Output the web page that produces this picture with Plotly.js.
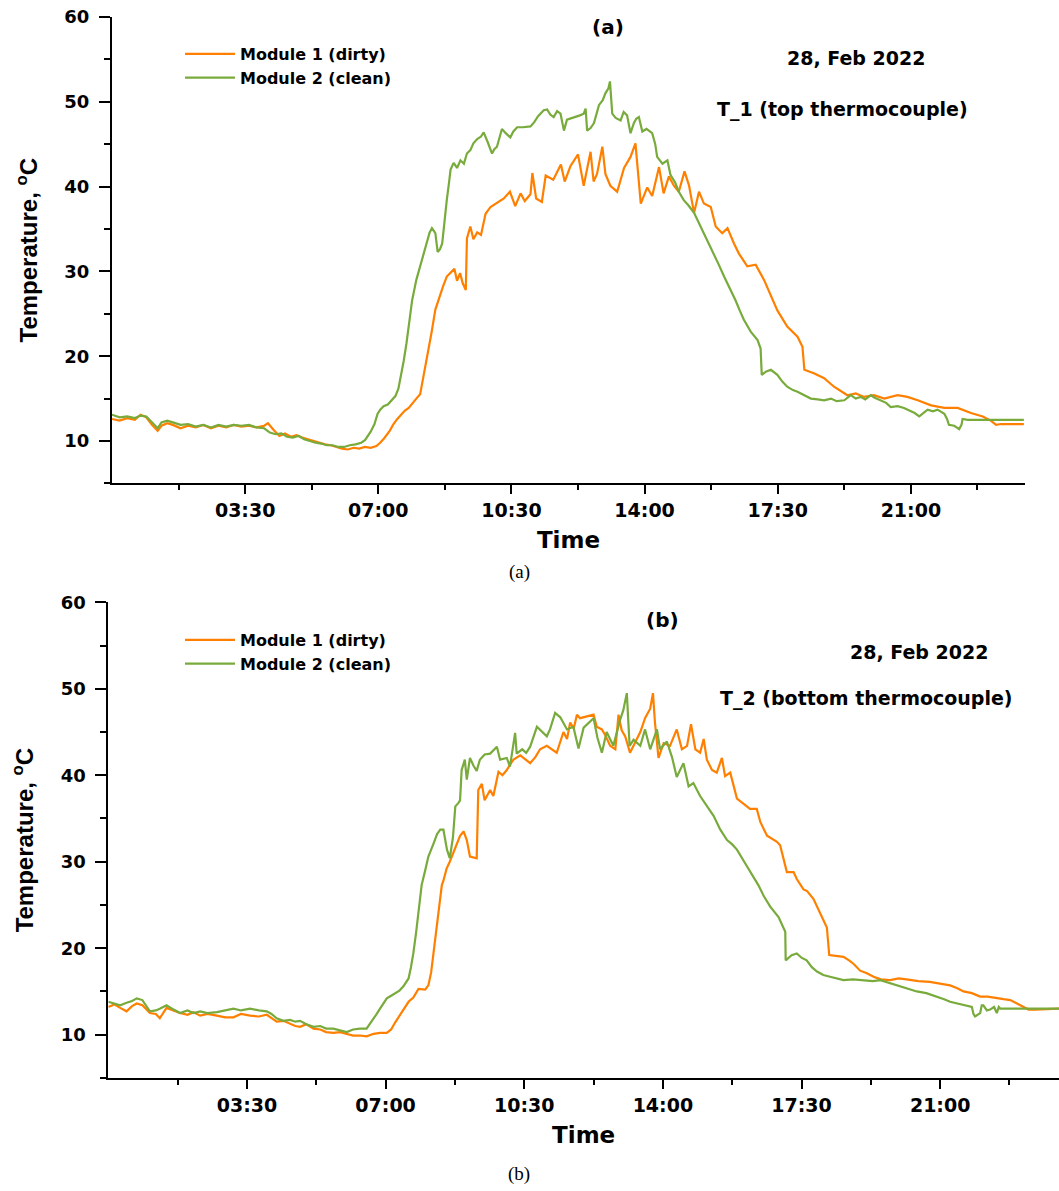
<!DOCTYPE html>
<html>
<head>
<meta charset="utf-8">
<script src="https://cdn.plot.ly/plotly-3.0.1.min.js"></script>
<style>
html,body{margin:0;padding:0;background:#ffffff;}
#chart{width:1059px;height:1191px;}
</style>
</head>
<body>
<div id="chart"></div>
<script>
// ---------------- DATA (hour of day, temperature °C) ----------------
const seriesNames = ['Module 1 (dirty)', 'Module 2 (clean)'];
const tickHours = [3.5, 7, 10.5, 14, 17.5, 21];
const tickLabels = ['03:30', '07:00', '10:30', '14:00', '17:30', '21:00'];

// (a) T_1 top thermocouple, Module 1 (dirty)
const t1Dirty = [[0,12.6],[0.2,12.4],[0.4,12.7],[0.6,12.5],[0.75,13.1],[0.9,12.8],[1.05,11.9],[1.2,11.2],[1.3,11.8],[1.45,12.1],[1.6,11.9],[1.8,11.5],[2.0,11.8],[2.2,11.6],[2.4,11.9],[2.6,11.5],[2.8,11.8],[3.0,11.6],[3.2,11.9],[3.4,11.7],[3.6,11.8],[3.8,11.6],[4.0,11.8],[4.1,12.1],[4.25,11.3],[4.4,10.6],[4.55,10.9],[4.7,10.5],[4.85,10.7],[5.0,10.4],[5.15,10.2],[5.3,10.0],[5.45,9.8],[5.6,9.6],[5.75,9.5],[5.9,9.3],[6.05,9.1],[6.2,9.0],[6.35,9.2],[6.5,9.1],[6.65,9.3],[6.8,9.2],[6.95,9.4],[7.05,9.8],[7.15,10.3],[7.3,11.2],[7.4,12.0],[7.5,12.6],[7.6,13.1],[7.7,13.6],[7.8,13.9],[7.9,14.5],[8.0,15.0],[8.1,15.5],[8.2,17.8],[8.3,20.3],[8.4,22.8],[8.5,25.5],[8.6,27.0],[8.7,28.2],[8.8,29.4],[8.9,29.9],[9.0,30.3],[9.07,28.9],[9.15,29.8],[9.22,28.6],[9.3,27.8],[9.33,33.9],[9.42,35.3],[9.5,33.8],[9.6,34.6],[9.7,34.3],[9.82,36.8],[9.95,37.6],[10.05,37.9],[10.15,38.2],[10.3,38.6],[10.46,39.4],[10.6,37.7],[10.74,39.2],[10.85,38.3],[11.0,39.1],[11.05,41.6],[11.15,38.6],[11.3,38.2],[11.4,41.3],[11.6,40.8],[11.8,42.6],[11.9,40.6],[12.05,42.4],[12.25,43.8],[12.4,40.1],[12.58,44.1],[12.66,40.6],[12.75,41.5],[12.89,44.7],[12.97,41.5],[13.1,40.1],[13.28,39.4],[13.46,42.2],[13.63,43.5],[13.76,45.1],[13.8,43.0],[13.9,38.0],[14.07,39.9],[14.2,38.9],[14.38,42.3],[14.5,39.2],[14.64,41.2],[14.77,40.1],[14.9,39.4],[15.05,41.8],[15.17,40.1],[15.3,36.9],[15.43,39.4],[15.56,38.0],[15.74,37.6],[15.87,35.3],[16.04,34.5],[16.18,35.1],[16.35,33.3],[16.48,32.1],[16.7,30.6],[16.92,30.8],[17.14,29.0],[17.3,27.4],[17.49,25.4],[17.75,23.5],[18.02,22.3],[18.15,21.1],[18.2,18.4],[18.45,18.0],[18.72,17.4],[18.98,16.4],[19.33,15.4],[19.55,15.6],[19.77,15.2],[20.03,15.4],[20.3,15.0],[20.65,15.4],[20.91,15.2],[21.18,14.8],[21.53,14.2],[21.88,13.9],[22.23,13.9],[22.58,13.3],[22.89,12.9],[23.1,12.4],[23.24,11.9],[23.37,12.0],[23.97,12.0]];

// (a) T_1 top thermocouple, Module 2 (clean)
const t1Clean = [[0,13.1],[0.2,12.8],[0.4,12.9],[0.6,12.7],[0.75,13.0],[0.9,12.9],[1.05,12.2],[1.2,11.5],[1.3,12.2],[1.45,12.4],[1.6,12.2],[1.8,11.9],[2.0,12.0],[2.2,11.7],[2.4,11.9],[2.6,11.6],[2.8,11.9],[3.0,11.7],[3.2,11.9],[3.4,11.8],[3.6,11.9],[3.8,11.6],[4.0,11.5],[4.15,11.0],[4.3,10.8],[4.45,10.9],[4.6,10.5],[4.75,10.4],[4.9,10.6],[5.05,10.2],[5.2,10.0],[5.35,9.8],[5.5,9.7],[5.65,9.5],[5.8,9.5],[5.95,9.3],[6.1,9.3],[6.25,9.5],[6.4,9.6],[6.55,9.8],[6.65,10.1],[6.8,11.1],[6.9,12.0],[6.98,13.2],[7.05,13.7],[7.14,14.1],[7.25,14.3],[7.36,14.8],[7.45,15.3],[7.53,16.2],[7.6,17.8],[7.67,19.5],[7.74,21.5],[7.8,23.5],[7.89,26.6],[8.0,29.0],[8.1,30.6],[8.2,32.2],[8.28,33.3],[8.35,34.6],[8.41,35.1],[8.5,34.5],[8.56,32.3],[8.62,32.6],[8.68,33.3],[8.74,36.0],[8.8,38.4],[8.86,40.5],[8.9,42.0],[8.98,42.8],[9.07,42.2],[9.16,43.1],[9.25,42.7],[9.33,43.9],[9.42,44.3],[9.5,45.1],[9.6,45.6],[9.7,45.9],[9.77,46.4],[9.88,45.2],[9.99,43.9],[10.05,44.4],[10.12,44.7],[10.2,46.0],[10.25,46.8],[10.35,46.3],[10.47,45.8],[10.55,46.5],[10.65,47.0],[10.8,47.0],[11.0,47.1],[11.1,47.6],[11.2,48.3],[11.35,49.0],[11.44,49.1],[11.52,48.5],[11.61,48.2],[11.7,48.9],[11.79,48.6],[11.88,46.6],[11.96,47.9],[12.3,48.4],[12.4,48.6],[12.45,49.2],[12.49,46.6],[12.58,46.9],[12.67,47.5],[12.8,49.6],[12.9,50.2],[12.97,51.0],[13.05,51.6],[13.09,52.4],[13.15,48.6],[13.24,48.1],[13.37,47.8],[13.45,48.8],[13.54,48.4],[13.63,46.3],[13.72,47.5],[13.78,48.0],[13.85,48.2],[13.94,46.5],[14.05,46.8],[14.2,46.3],[14.28,45.0],[14.33,43.5],[14.4,43.1],[14.47,42.7],[14.6,43.1],[14.68,41.4],[14.8,40.5],[14.9,39.4],[15.03,38.4],[15.15,37.8],[15.3,36.9],[15.43,35.7],[15.56,34.5],[15.7,33.3],[15.82,32.1],[15.95,30.8],[16.09,29.4],[16.25,28.0],[16.39,26.6],[16.5,25.4],[16.61,24.3],[16.79,22.9],[16.97,21.9],[17.05,20.9],[17.08,17.8],[17.2,18.2],[17.32,18.4],[17.49,17.8],[17.62,17.0],[17.75,16.4],[17.9,16.0],[18.02,15.8],[18.2,15.4],[18.37,15.0],[18.55,14.9],[18.72,14.8],[18.9,15.0],[19.05,14.7],[19.25,14.8],[19.42,15.4],[19.55,15.0],[19.68,15.2],[19.8,14.9],[19.95,15.4],[20.05,15.1],[20.2,14.8],[20.35,14.5],[20.47,14.0],[20.65,14.1],[20.82,13.9],[21.0,13.5],[21.1,13.3],[21.22,12.9],[21.35,13.4],[21.44,13.7],[21.58,13.5],[21.7,13.7],[21.88,13.2],[21.95,12.6],[22.0,11.9],[22.14,11.8],[22.27,11.4],[22.33,11.9],[22.36,12.6],[22.49,12.5],[23.97,12.5]];

// (b) T_2 bottom thermocouple, Module 1 (dirty)
const t2Dirty = [[0,13.2],[0.15,13.5],[0.3,13.1],[0.46,12.7],[0.6,13.3],[0.72,13.6],[0.86,13.4],[1.05,12.5],[1.2,12.4],[1.3,11.9],[1.47,13.1],[1.65,12.8],[1.81,12.5],[2.0,12.3],[2.15,12.6],[2.32,12.2],[2.5,12.4],[2.74,12.2],[2.95,12.0],[3.16,12.0],[3.35,12.4],[3.58,12.2],[3.8,12.1],[4.0,12.3],[4.12,11.9],[4.25,11.5],[4.42,11.6],[4.59,11.3],[4.72,11.0],[4.84,10.9],[5.0,11.2],[5.18,10.7],[5.35,10.6],[5.5,10.3],[5.68,10.2],[5.85,10.3],[6.02,10.1],[6.18,9.9],[6.35,9.9],[6.52,9.8],[6.7,10.1],[6.86,10.2],[7.03,10.2],[7.14,10.6],[7.24,11.4],[7.35,12.2],[7.45,13.0],[7.58,13.8],[7.7,14.3],[7.83,15.3],[8.0,15.2],[8.08,15.7],[8.15,17.2],[8.21,19.4],[8.27,21.8],[8.33,24.4],[8.42,27.3],[8.46,27.8],[8.54,29.2],[8.62,30.0],[8.7,31.0],[8.79,32.1],[8.88,33.0],[8.97,33.5],[9.05,32.5],[9.13,30.6],[9.3,30.4],[9.34,38.3],[9.43,39.0],[9.5,37.1],[9.57,37.8],[9.64,38.3],[9.72,37.6],[9.85,40.4],[9.95,40.0],[10.06,40.6],[10.15,41.3],[10.23,41.8],[10.4,42.3],[10.52,41.9],[10.65,41.4],[10.78,42.1],[10.9,43.0],[11.07,43.4],[11.32,42.6],[11.49,45.0],[11.58,44.2],[11.66,46.1],[11.75,45.4],[11.83,47.0],[11.91,46.6],[12.25,47.0],[12.33,45.6],[12.46,45.3],[12.55,44.6],[12.67,43.4],[12.8,43.0],[12.88,47.0],[12.96,45.2],[13.05,44.5],[13.17,42.6],[13.3,43.8],[13.43,45.0],[13.55,46.6],[13.68,47.7],[13.75,49.5],[13.8,46.1],[13.89,42.0],[14.02,43.7],[14.18,43.4],[14.35,45.3],[14.48,43.0],[14.61,43.4],[14.71,45.9],[14.82,43.0],[14.94,42.6],[15.03,44.2],[15.11,41.8],[15.24,40.6],[15.36,40.3],[15.49,42.0],[15.57,39.9],[15.7,40.3],[15.87,37.3],[16.04,36.7],[16.2,36.1],[16.37,36.1],[16.46,34.6],[16.63,33.0],[16.88,32.3],[16.96,31.9],[17.13,28.8],[17.3,28.8],[17.38,28.0],[17.55,26.8],[17.64,26.6],[17.8,25.7],[17.97,24.1],[18.14,22.4],[18.2,19.2],[18.4,19.1],[18.56,19.0],[18.7,18.6],[18.81,18.2],[18.98,17.4],[19.15,17.1],[19.32,16.7],[19.5,16.4],[19.74,16.3],[19.95,16.5],[20.15,16.4],[20.45,16.2],[20.74,16.1],[21.0,15.9],[21.25,15.7],[21.42,15.4],[21.59,15.0],[21.8,14.8],[22.01,14.4],[22.2,14.4],[22.43,14.2],[22.6,14.1],[22.77,14.0],[22.9,13.7],[23.02,13.4],[23.23,12.9],[23.4,12.9],[24.0,13.0]];

// (b) T_2 bottom thermocouple, Module 2 (clean)
const t2Clean = [[0,13.8],[0.15,13.6],[0.3,13.4],[0.46,13.7],[0.6,13.9],[0.72,14.2],[0.86,14.0],[1.05,12.7],[1.2,12.8],[1.3,13.0],[1.47,13.4],[1.65,12.9],[1.81,12.5],[2.0,12.8],[2.15,12.5],[2.32,12.7],[2.5,12.5],[2.74,12.6],[2.95,12.8],[3.16,13.0],[3.35,12.8],[3.58,13.0],[3.8,12.8],[4.0,12.7],[4.12,12.4],[4.25,11.9],[4.42,11.6],[4.59,11.7],[4.72,11.5],[4.84,11.6],[5.0,11.2],[5.18,10.9],[5.35,11.0],[5.5,10.7],[5.68,10.7],[5.85,10.5],[6.02,10.3],[6.18,10.6],[6.35,10.7],[6.52,10.7],[6.65,11.5],[6.76,12.3],[6.86,13.0],[7.03,14.2],[7.14,14.5],[7.24,14.8],[7.35,15.1],[7.45,15.6],[7.58,16.5],[7.64,17.8],[7.7,19.4],[7.77,21.8],[7.83,24.4],[7.91,27.3],[8.0,29.0],[8.08,30.6],[8.21,32.1],[8.3,33.2],[8.38,33.7],[8.46,33.7],[8.55,31.4],[8.62,30.4],[8.7,32.8],[8.76,36.4],[8.84,36.8],[8.88,37.1],[8.92,40.6],[9.0,41.8],[9.05,39.5],[9.13,42.0],[9.22,41.1],[9.3,40.5],[9.38,41.8],[9.5,42.4],[9.64,42.5],[9.73,42.9],[9.81,43.3],[9.89,41.8],[10.06,42.0],[10.14,41.0],[10.27,44.9],[10.31,42.5],[10.45,43.0],[10.55,42.6],[10.65,43.3],[10.82,45.6],[10.95,45.0],[11.07,44.5],[11.15,45.3],[11.28,47.2],[11.41,46.7],[11.5,45.9],[11.58,45.3],[11.74,45.6],[11.87,43.1],[12.0,45.5],[12.25,46.6],[12.35,44.3],[12.46,42.6],[12.58,45.0],[12.75,43.4],[12.92,46.4],[13.0,47.5],[13.09,49.5],[13.16,43.4],[13.26,44.1],[13.43,43.4],[13.55,45.3],[13.68,43.0],[13.85,45.3],[13.93,43.0],[14.1,43.9],[14.23,42.1],[14.35,39.8],[14.52,41.4],[14.65,38.7],[14.77,39.1],[14.94,37.6],[15.11,36.4],[15.28,35.3],[15.45,33.7],[15.62,32.5],[15.75,32.0],[15.87,31.4],[16.08,29.8],[16.28,28.3],[16.41,27.3],[16.55,26.0],[16.71,24.8],[16.92,23.6],[17.09,21.9],[17.1,18.6],[17.25,19.2],[17.38,19.4],[17.5,18.9],[17.63,18.6],[17.76,17.8],[17.89,17.3],[18.05,16.9],[18.22,16.7],[18.4,16.5],[18.56,16.3],[18.8,16.4],[19.07,16.3],[19.3,16.2],[19.49,16.3],[19.7,16.0],[19.91,15.7],[20.15,15.4],[20.41,15.0],[20.65,14.8],[20.92,14.4],[21.1,14.1],[21.25,13.8],[21.45,13.6],[21.59,13.4],[21.8,13.2],[21.84,12.4],[21.88,12.1],[22.01,12.5],[22.05,13.4],[22.09,13.4],[22.18,12.8],[22.26,12.9],[22.36,13.2],[22.43,12.5],[22.48,13.2],[22.52,13.0],[24.0,13.0]];

// ---------------- STYLE ----------------
const W = 1059, H = 1191;
const orange = '#FF8000';
const green = '#78AB3C';
const boldFont = 'DejaVu Sans, Verdana, sans-serif';
const titleFont = 'Liberation Sans, Arial, sans-serif';
const px = v => v / W;
const py = v => 1 - v / H;

function trace(pairs, name, color, xa, ya, legend) {
  return {
    type: 'scatter', mode: 'lines', name: name,
    x: pairs.map(p => p[0]), y: pairs.map(p => p[1]),
    xaxis: xa, yaxis: ya, legend: legend,
    line: {color: color, width: 2.2}
  };
}

const data = [
  trace(t1Dirty, seriesNames[0], orange, 'x', 'y', 'legend'),
  trace(t1Clean, seriesNames[1], green, 'x', 'y', 'legend'),
  trace(t2Dirty, seriesNames[0], orange, 'x2', 'y2', 'legend2'),
  trace(t2Clean, seriesNames[1], green, 'x2', 'y2', 'legend2')
];

function xAxis(domain, anchor) {
  return {
    domain: domain, anchor: anchor, range: [0, 24], fixedrange: true,
    tickmode: 'array', tickvals: tickHours, ticktext: tickLabels,
    ticks: 'outside', ticklen: 9, tickwidth: 2, tickcolor: '#000',
    showline: true, linewidth: 2, linecolor: '#000',
    showgrid: false, zeroline: false, automargin: false,
    tickfont: {family: boldFont, size: 19, color: '#000', weight: 'bold'},
    minor: {tickmode: 'linear', tick0: 1.75, dtick: 3.5, ticks: 'outside', ticklen: 5, tickwidth: 2, tickcolor: '#000', showgrid: false},
    title: {text: 'Time', standoff: 12, font: {family: boldFont, size: 23, color: '#000', weight: 'bold'}}
  };
}
function yAxis(domain, anchor) {
  return {
    domain: domain, anchor: anchor, range: [5, 60], fixedrange: true,
    tick0: 0, dtick: 10,
    ticks: 'outside', ticklen: 11, tickwidth: 2, tickcolor: '#000',
    ticklabelstandoff: 6,
    showline: true, linewidth: 2, linecolor: '#000',
    showgrid: false, zeroline: false, automargin: false,
    tickfont: {family: boldFont, size: 18, color: '#000', weight: 'bold'},
    minor: {tickmode: 'linear', tick0: 5, dtick: 10, ticks: 'outside', ticklen: 6, tickwidth: 2, tickcolor: '#000', showgrid: false},
    title: {text: 'Temperature, <sup>o</sup>C', standoff: 20, font: {family: titleFont, size: 24, color: '#000', weight: 'bold'}}
  };
}

function note(text, x, y, size, family, weight) {
  return {
    xref: 'paper', yref: 'paper', x: px(x), y: py(y), xanchor: 'center', yanchor: 'middle',
    text: text, showarrow: false,
    font: {family: family || boldFont, size: size || 19, color: '#000', weight: weight || 'bold'}
  };
}

const legendBase = {
  xanchor: 'left', yanchor: 'top', bgcolor: 'rgba(0,0,0,0)', borderwidth: 0,
  itemwidth: 50, tracegroupgap: 0,
  font: {family: boldFont, size: 16, color: '#000', weight: 'bold'}
};

const layout = {
  width: W, height: H,
  margin: {l: 0, r: 0, t: 0, b: 0},
  paper_bgcolor: '#ffffff', plot_bgcolor: '#ffffff',
  showlegend: true,
  xaxis: xAxis([px(112), px(1025)], 'y'),
  yaxis: yAxis([py(483.4), py(17)], 'x'),
  xaxis2: xAxis([px(108.3), 1], 'y2'),
  yaxis2: yAxis([py(1077.9), py(602.3)], 'x2'),
  legend: Object.assign({x: px(180), y: py(37)}, legendBase),
  legend2: Object.assign({x: px(180), y: py(623)}, legendBase),
  annotations: [
    note('(a)', 608, 27, 20),
    note('28, Feb 2022', 856, 58),
    note('T_1 (top thermocouple)', 842, 109),
    note('(b)', 662, 620, 20),
    note('28, Feb 2022', 919, 652),
    note('T_2 (bottom thermocouple)', 866, 698),
    note('(a)', 519, 572, 19, 'Liberation Serif, Times New Roman, serif', 'normal'),
    note('(b)', 519, 1174, 19, 'Liberation Serif, Times New Roman, serif', 'normal')
  ]
};

Plotly.newPlot('chart', data, layout, {displayModeBar: false, staticPlot: true});
</script>
</body>
</html>
